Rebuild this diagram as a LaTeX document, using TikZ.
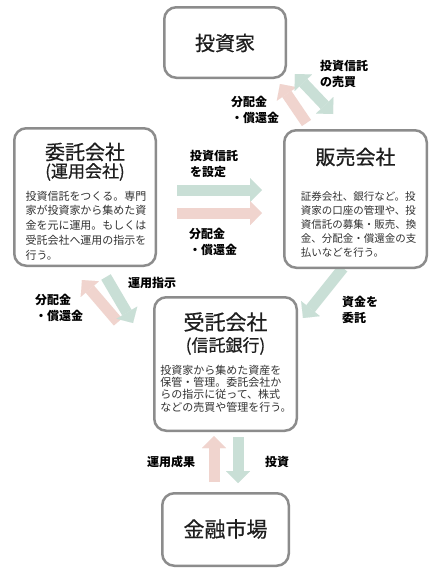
\documentclass[tikz,border=0pt]{standalone}
\usepackage{fontspec}
\setmainfont{Noto Sans CJK JP}
\newfontfamily\titlefont[FakeBold=0.6]{Noto Sans CJK JP}
\usetikzlibrary{arrows.meta}
\definecolor{pinkA}{RGB}{240,212,206}
\definecolor{greenA}{RGB}{201,223,214}
\definecolor{boxline}{RGB}{140,140,140}
\definecolor{titletext}{RGB}{30,30,30}
\definecolor{bodytext}{RGB}{50,50,50}
\begin{document}
\begin{tikzpicture}[x=1pt,y=-1pt,
  box/.style={draw=boxline,line width=2.5pt,rounded corners=12pt,fill=white,inner sep=0pt},
  titletxt/.style={font=\titlefont\fontsize{20}{22}\selectfont,text=titletext,inner sep=0pt},
  subtxt/.style={font=\titlefont\fontsize{17}{20}\selectfont,text=titletext,inner sep=0pt},
  bodytxt/.style={text=bodytext,align=left,inner sep=0pt},
  lbl/.style={font=\bfseries\fontsize{12}{16}\selectfont,align=left,anchor=west,inner sep=0pt},
  parrow/.style={draw=pinkA,line width=11pt,-{Triangle[width=24pt,length=12pt,line width=0.01pt]}},
  garrow/.style={draw=greenA,line width=11pt,-{Triangle[width=24pt,length=12pt,line width=0.01pt]}},
  gdarrow/.style={draw=greenA,line width=11pt,{Triangle[width=24pt,length=12pt,line width=0.01pt]}-{Triangle[width=24pt,length=12pt,line width=0.01pt]}}
]
\useasboundingbox (0,0) rectangle (443,576);
\fill[white] (0,0) rectangle (443,576);

% arrow end points
\coordinate (p1s) at (306.5,123);
\coordinate (p1e) at (280,84);
\coordinate (g1s) at (295,74);
\coordinate (g1e) at (333,114);
\coordinate (g2s) at (177,190);
\coordinate (g2e) at (262,190);
\coordinate (p2s) at (177,213);
\coordinate (p2e) at (262,213);
\coordinate (p3s) at (118,322);
\coordinate (p3e) at (82,280);
\coordinate (g3s) at (106,277);
\coordinate (g3e) at (133,323);
\coordinate (g4s) at (343,268);
\coordinate (g4e) at (303,318);
\coordinate (p5s) at (214,482);
\coordinate (p5e) at (214,436);
\coordinate (g5s) at (238,437);
\coordinate (g5e) at (238,483);

\draw[parrow] (p1s) -- (p1e);
\draw[gdarrow] (g1s) -- (g1e);
\draw[garrow] (g2s) -- (g2e);
\draw[parrow] (p2s) -- (p2e);
\draw[parrow] (p3s) -- (p3e);
\draw[garrow] (g3s) -- (g3e);
\draw[garrow] (g4s) -- (g4e);
\draw[parrow] (p5s) -- (p5e);
\draw[garrow] (g5s) -- (g5e);

% boxes
\node[box,minimum width=121.5pt,minimum height=70.5pt] (inv) at (225,42.5) {};
\node[box,minimum width=141.5pt,minimum height=137.5pt] (itaku) at (85,197) {};
\node[box,minimum width=142.5pt,minimum height=137.5pt] (hanbai) at (355.5,199) {};
\node[box,minimum width=142.5pt,minimum height=133.5pt] (jutaku) at (225.5,364) {};
\node[box,minimum width=126.5pt,minimum height=72.5pt] (market) at (225.5,529.5) {};

% box texts
\node[titletxt] (invT) at (225,43) {投資家};

\node[titletxt] (itakuT) at (85,152) {委託会社};
\node[subtxt] (itakuS) at (85,172) {(運用会社)};
\node[bodytxt,font=\fontsize{11}{14.8}\selectfont] (itakuB) at (86,225.5) {投資信託をつくる。専門\\家が投資家から集めた資\\金を元に運用。もしくは\\受託会社へ運用の指示を\\行う。};

\node[titletxt] (hanbaiT) at (355.5,157) {販売会社};
\node[bodytxt,font=\fontsize{10.5}{14}\selectfont] (hanbaiB) at (358.5,225) {証券会社、銀行など。投\\資家の口座の管理や、投\\資信託の募集・販売、換\\金、分配金・償還金の支\\払いなどを行う。};

\node[titletxt,font=\titlefont\fontsize{21}{23}\selectfont] (jutakuT) at (225.5,322) {受託会社};
\node[subtxt] (jutakuS) at (225.5,346) {(信託銀行)};
\node[bodytxt,font=\fontsize{11}{12.4}\selectfont] (jutakuB) at (226,388.5) {投資家から集めた資産を\\保管・管理。委託会社か\\らの指示に従って、株式\\などの売買や管理を行う。};

\node[titletxt,font=\titlefont\fontsize{21}{23}\selectfont] (marketT) at (225.5,529) {金融市場};

% labels
\node[lbl] (lsell) at (320,74) {投資信託\\の売買};
\node[lbl] (ldist1) at (231,110) {分配金\\・償還金};
\node[lbl] (lset) at (190,163.5) {投資信託\\を設定};
\node[lbl] (ldist2) at (189,241.5) {分配金\\・償還金};
\node[lbl] (lorder) at (128,283) {運用指示};
\node[lbl] (ldist3) at (35,307.5) {分配金\\・償還金};
\node[lbl] (lfund) at (342,309.5) {資金を\\委託};
\node[lbl] (lresult) at (147,462) {運用成果};
\node[lbl] (linvest) at (265,462) {投資};
\end{tikzpicture}
\end{document}
